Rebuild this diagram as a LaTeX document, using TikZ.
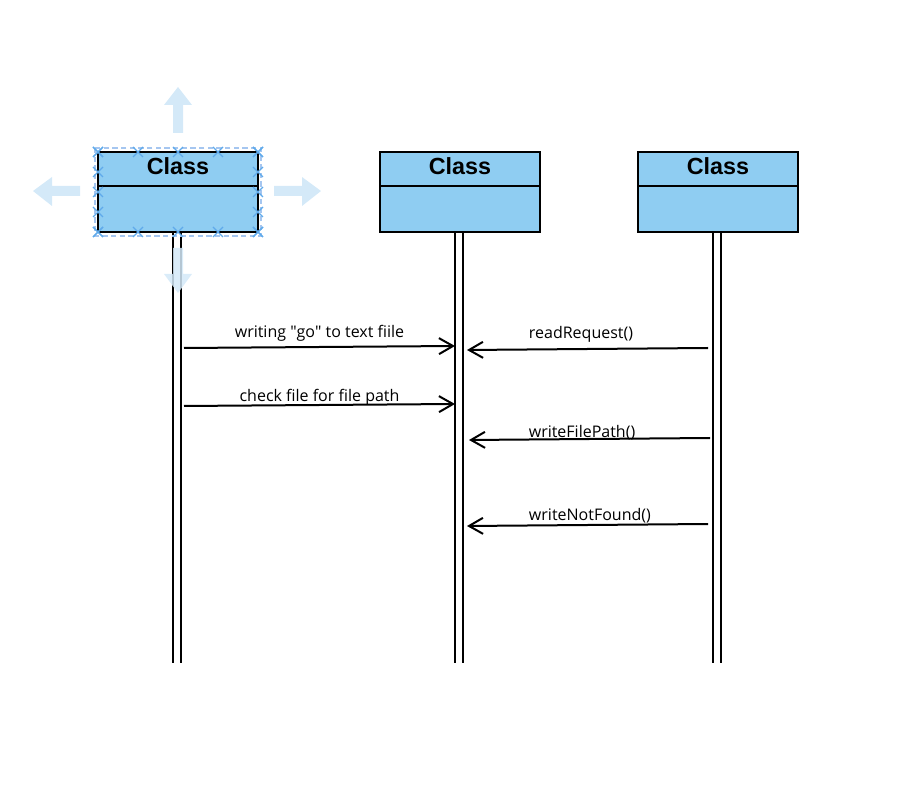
\documentclass[tikz,border=0pt]{standalone}
\usepackage{fontspec}
\setmainfont{Open Sans}
\newfontfamily\classfont{Liberation Sans}
\usetikzlibrary{arrows.meta, shapes.misc}
\definecolor{classblue}{RGB}{143, 205, 242}
\definecolor{handleblue}{RGB}{95, 170, 235}
\definecolor{ghostblue}{RGB}{212, 233, 248}
\definecolor{dashblue}{RGB}{165, 198, 240}

\begin{document}
\begin{tikzpicture}[x=0.75pt, y=-0.75pt,
		classbox/.style={draw, line width=1.5pt, fill=classblue, minimum width=120pt, minimum height=60pt, inner sep=0pt},
		classhead/.style={draw, line width=1.5pt, minimum width=120pt, minimum height=25.5pt, inner sep=0pt, text depth=4.5pt, font=\classfont\bfseries\fontsize{17.5}{20}\selectfont},
		life/.style={line width=1.5pt},
		msg/.style={line width=1.5pt, -{Straight Barb[length=10.5pt, width=12pt, line width=1.5pt]}},
		lbl/.style={font=\fontsize{12}{14}\selectfont, inner sep=0pt, anchor=base},
		handle/.style={cross out, draw=handleblue, line width=1pt, minimum size=6.5pt, inner sep=0pt}]
	\useasboundingbox (0,0) rectangle (910,787);
	% ghost arrows round the selected box
	\fill[ghostblue] (173,133) -- (173,105) -- (164,105) -- (178,87) -- (192,105) -- (183,105) -- (183,133) -- cycle;
	\fill[ghostblue] (80,186) -- (52,186) -- (52,177) -- (33,191) -- (52,206) -- (52,196) -- (80,196) -- cycle;
	\fill[ghostblue] (274,186) -- (302,186) -- (302,177) -- (321,191) -- (302,206) -- (302,196) -- (274,196) -- cycle;
	% classes
	\node[classbox] (c1) at (178,192) {};
	\node[classhead, anchor=north] (h1) at (c1.north) {Class};
	\node[classbox] (c2) at (460,192) {};
	\node[classhead, anchor=north] (h2) at (c2.north) {Class};
	\node[classbox] (c3) at (718,192) {};
	\node[classhead, anchor=north] (h3) at (c3.north) {Class};
	% lifelines
	\foreach \c in {c1,c2,c3}{
		\draw[life] ([xshift=-3.75pt]\c.south) -- ++(0,430);
		\draw[life] ([xshift=2.25pt]\c.south) -- ++(0,430);
	}
	\fill[ghostblue, opacity=0.85] (173,248) -- (173,274) -- (164,274) -- (178,293) -- (192,274) -- (183,274) -- (183,248) -- cycle;
	% selection frame
	\draw[dashblue, line width=1pt, dash pattern=on 4pt off 2.5pt] (95,148) rectangle (261,236);
	\foreach \i in {0,...,4}{
		\node[handle] (ht\i) at (98+40*\i,152) {};
		\node[handle] (hb\i) at (98+40*\i,232) {};
		\node[handle] (hl\i) at (98,152+20*\i) {};
		\node[handle] (hr\i) at (258,152+20*\i) {};
	}
	% messages
	\coordinate (goA) at (184,348);
	\coordinate (goB) at (455,346);
	\coordinate (pathA) at (184,406);
	\coordinate (pathB) at (455,404);
	\coordinate (readA) at (708,348);
	\coordinate (readB) at (467,350);
	\coordinate (fpA) at (710,438);
	\coordinate (fpB) at (469,440);
	\coordinate (nfA) at (708,524);
	\coordinate (nfB) at (467,526);
	\draw[msg] (goA) -- node[lbl, yshift=6.75pt] {writing \textquotedbl go\textquotedbl{} to text fiile} (goB);
	\draw[msg] (pathA) -- node[lbl, yshift=2.25pt] {check file for file path} (pathB);
	\draw[msg] (readA) -- node[lbl, pos=.527, yshift=8.25pt] {readRequest()} (readB);
	\draw[msg] (fpA) -- node[lbl, pos=.531, yshift=1.5pt] {writeFilePath()} (fpB);
	\draw[msg] (nfA) -- node[lbl, pos=.49, yshift=3pt] {writeNotFound()} (nfB);
\end{tikzpicture}
\end{document}
